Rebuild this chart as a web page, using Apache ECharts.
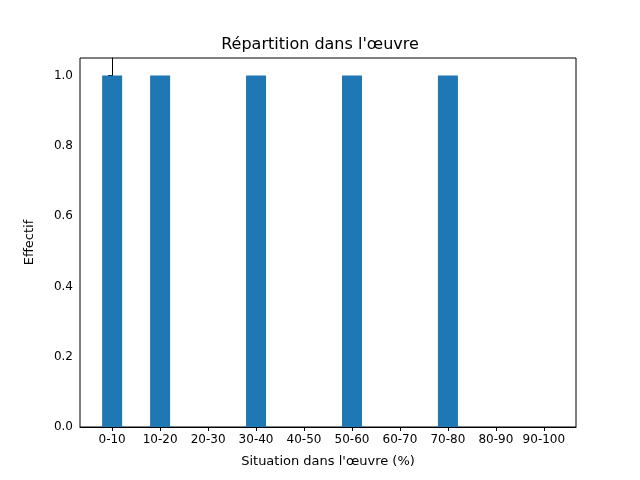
<!DOCTYPE html>
<html><head><meta charset="utf-8">
<script src="https://cdn.jsdelivr.net/npm/echarts@6/dist/echarts.min.js"></script>
<style>html,body{margin:0;padding:0;background:#fff}#c{width:640px;height:480px}</style>
</head><body><div id="c"></div>
<script>
const categories = ['0-10','10-20','20-30','30-40','40-50','50-60','60-70','70-80','80-90','90-100'];
const counts = [1,1,0,1,0,1,0,1,0,0];
const yTicks = [0,0.2,0.4,0.6,0.8,1.0];
const chart = echarts.init(document.getElementById('c'));
const font = 'DejaVu Sans';
const xIdx = categories.map((_, i) => i);
chart.setOption({
  animation:false,
  title:{text:"Répartition dans l'œuvre",left:'center',top:32,textStyle:{fontFamily:font,fontSize:16,fontWeight:'normal',color:'#000'}},
  grid:{left:80,right:64,top:58,bottom:53,show:true,borderColor:'#000',borderWidth:1},
  xAxis:{type:'value',min:-0.67,max:9.67,
    name:"Situation dans l'œuvre (%)",nameLocation:'middle',nameGap:28,nameTextStyle:{fontFamily:font,fontSize:13,color:'#000'},
    axisLine:{show:true,lineStyle:{color:'#000'}},splitLine:{show:false},
    axisTick:{show:true,length:4,customValues:xIdx,lineStyle:{color:'#000'}},
    axisLabel:{customValues:xIdx,fontFamily:font,fontSize:12,color:'#000',margin:7,formatter:v=>categories[Math.round(v)]}},
  yAxis:{type:'value',min:0,max:1.05,
    name:'Effectif',nameLocation:'middle',nameGap:44,nameTextStyle:{fontFamily:font,fontSize:13,color:'#000'},
    axisLine:{show:true,lineStyle:{color:'#000'}},splitLine:{show:false},
    axisTick:{show:true,length:4,customValues:yTicks,lineStyle:{color:'#000'}},
    axisLabel:{customValues:yTicks,fontFamily:font,fontSize:12,color:'#000',margin:7,formatter:v=>v.toFixed(1)}},
  series:[{type:'bar',barWidth:20,itemStyle:{color:'#1f77b4'},data:counts.map((c,i)=>[i,c])}]
});
</script></body></html>
